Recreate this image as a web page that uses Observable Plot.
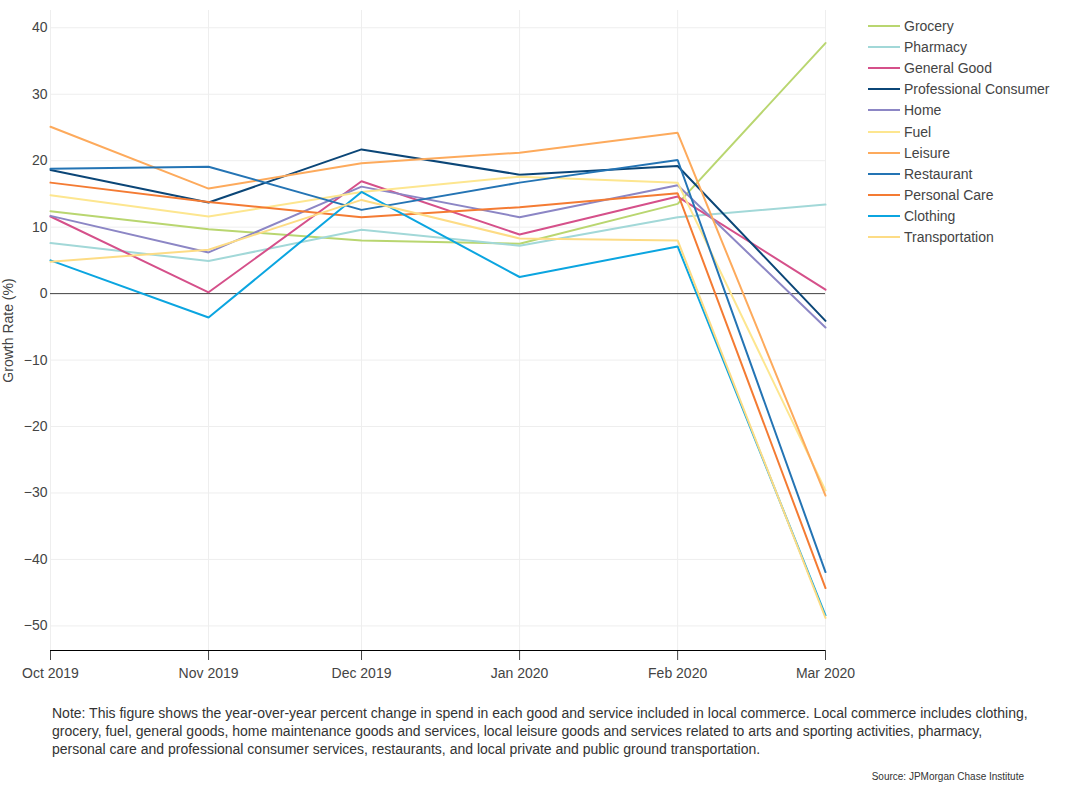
<!DOCTYPE html>
<html>
<head>
<meta charset="utf-8">
<script src="https://cdn.jsdelivr.net/npm/d3@7"></script>
<script src="https://cdn.jsdelivr.net/npm/@observablehq/plot@0.6"></script>
<style>
  body { margin: 0; background: #fff; font-family: "Liberation Sans", Arial, sans-serif; }
  #wrap { position: relative; width: 1070px; }
  #legend { position: absolute; left: 868px; top: 15px; font-size: 14px; color: #444; }
  .item { height: 21.2px; display: flex; align-items: center; }
  .swatch { width: 32px; height: 2px; margin-right: 4px; }
  #note { margin: 14px 0 0 52px; width: 980px; font-size: 14px; line-height: 18px; color: #333; }
  #source { margin-top: 13px; width: 1024px; text-align: right; font-size: 10px; line-height: 12px; color: #333; }
</style>
</head>
<body>
<div id="wrap"><div id="chart"></div><div id="legend"></div></div>
<div id="note">Note: This figure shows the year-over-year percent change in spend in each good and service included in local commerce. Local commerce includes clothing, grocery, fuel, general goods, home maintenance goods and services, local leisure goods and services related to arts and sporting activities, pharmacy, personal care and professional consumer services, restaurants, and local private and public ground transportation.</div>
<div id="source">Source: JPMorgan Chase Institute</div>
<script>
const months = ["2019-10-01", "2019-11-01", "2019-12-01", "2020-01-01", "2020-02-01", "2020-03-01"];
const monthLabels = ["Oct 2019", "Nov 2019", "Dec 2019", "Jan 2020", "Feb 2020", "Mar 2020"];
const yTicks = [-50, -40, -30, -20, -10, 0, 10, 20, 30, 40];
const yLabel = "Growth Rate (%)";

const categories = ["Grocery", "Pharmacy", "General Good", "Professional Consumer", "Home", "Fuel", "Leisure", "Restaurant", "Personal Care", "Clothing", "Transportation"];
const colors = ["#b9d670", "#a2d8d8", "#d5508a", "#0b4677", "#8c86c5", "#fde68f", "#fdaa5c", "#2474b4", "#f47b33", "#0ba5e0", "#fddc85"];

const grocery        = [12.4, 9.7, 8.0, 7.5, 13.5, 37.7];
const pharmacy       = [7.6, 4.9, 9.6, 7.2, 11.5, 13.4];
const generalGood    = [11.6, 0.2, 16.9, 8.9, 14.6, 0.6];
const professional   = [18.6, 13.7, 21.7, 17.9, 19.2, -4.1];
const home           = [11.7, 6.2, 16.1, 11.5, 16.3, -5.1];
const fuel           = [14.8, 11.6, 15.3, 17.6, 16.7, -29.6];
const leisure        = [25.1, 15.8, 19.6, 21.2, 24.2, -30.4];
const restaurant     = [18.8, 19.1, 12.6, 16.7, 20.1, -41.9];
const personalCare   = [16.7, 13.8, 11.5, 13.0, 15.1, -44.3];
const clothing       = [5.0, -3.6, 15.3, 2.5, 7.1, -48.4];
const transportation = [4.8, 6.6, 14.1, 8.3, 8.0, -48.8];

const seriesValues = [grocery, pharmacy, generalGood, professional, home, fuel, leisure, restaurant, personalCare, clothing, transportation];

const dates = months.map(d => new Date(d + "T00:00:00Z"));
const data = [];
categories.forEach((c, i) => {
  seriesValues[i].forEach((v, j) => data.push({category: c, date: dates[j], value: v}));
});

const labelOf = new Map(dates.map((d, i) => [+d, monthLabels[i]]));

const chart = Plot.plot({
  width: 1070,
  height: 690,
  marginLeft: 50,
  marginRight: 245,
  marginTop: 10,
  marginBottom: 40,
  style: {fontFamily: "Liberation Sans, Arial, sans-serif", fontSize: "14px", color: "#444", background: "#fff"},
  x: {type: "utc", domain: [dates[0], dates[dates.length - 1]]},
  y: {domain: [-53.7, 42.6]},
  color: {domain: categories, range: colors},
  marks: [
    Plot.gridX(dates, {stroke: "#eee", strokeOpacity: 1, strokeWidth: 1}),
    Plot.gridY(yTicks, {stroke: "#eee", strokeOpacity: 1, strokeWidth: 1}),
    Plot.ruleY([0], {stroke: "#444", strokeWidth: 1}),
    Plot.axisY({ticks: yTicks, tickSize: 0, tickPadding: 3, fontSize: 14, label: null, tickFormat: d3.format("")}),
    Plot.text([yLabel], {frameAnchor: "left", dx: -42, rotate: -90, fontSize: 14, fill: "#444", textAnchor: "middle"}),
    Plot.axisX({ticks: dates, tickSize: 10, tickPadding: 8, fontSize: 14, label: null, tickFormat: d => labelOf.get(+d)}),
    Plot.ruleY([-53.7], {stroke: "#000", strokeWidth: 1}),
    Plot.line(data, {x: "date", y: "value", z: "category", stroke: "category", strokeWidth: 2, strokeLinejoin: "miter"})
  ]
});
document.getElementById("chart").appendChild(chart);

const legend = document.getElementById("legend");
categories.forEach((c, i) => {
  const item = document.createElement("div");
  item.className = "item";
  const sw = document.createElement("div");
  sw.className = "swatch";
  sw.style.background = colors[i];
  const t = document.createElement("span");
  t.textContent = c;
  item.appendChild(sw);
  item.appendChild(t);
  legend.appendChild(item);
});
</script>
</body>
</html>
